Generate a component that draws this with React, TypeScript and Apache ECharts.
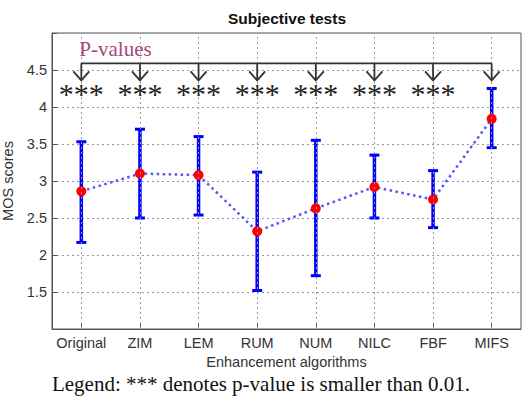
import React, { useEffect, useRef } from "react";
import * as echarts from "echarts";

const categories = ["Original", "ZIM", "LEM", "RUM", "NUM", "NILC", "FBF", "MIFS"];
const meanScores = [2.86, 3.1, 3.08, 2.32, 2.63, 2.92, 2.75, 3.84];
const upperBounds = [3.53, 3.7, 3.6, 3.12, 3.55, 3.35, 3.14, 4.25];
const lowerBounds = [2.17, 2.5, 2.54, 1.52, 1.72, 2.5, 2.37, 3.45];
const significance = ["***", "***", "***", "***", "***", "***", "***", ""];
const yMin = 1;
const yMax = 5;
const yStep = 0.5;

const titleText = "Subjective tests";
const yAxisTitle = "MOS scores";
const xAxisTitle = "Enhancement algorithms";
const pValueLabel = "P-values";
const footnote = "Legend: *** denotes p-value is smaller than 0.01.";

// annotation levels in data units
const bracketLevel = 4.59;
const arrowTipLevel = 4.36;
const starLevel = 4.25;

const SANS = "'Liberation Sans', Arial, Helvetica, sans-serif";
const SERIF = "'Liberation Serif', 'Times New Roman', serif";

export default function App() {
  const ref = useRef<HTMLDivElement>(null);

  useEffect(() => {
    document.body.style.margin = "0";
    if (!ref.current) return;
    const chart = echarts.init(ref.current, undefined, { renderer: "svg" });

    const gridLine = { color: "#9a9a9a", type: [2, 3] as number[], width: 1 };

    const option: any = {
      animation: false,
      backgroundColor: "#ffffff",
      grid: {
        left: 52,
        right: 1,
        top: 33,
        bottom: 67,
        containLabel: false,
        outerBoundsMode: "none",
        show: true,
        borderColor: "#555",
        borderWidth: 1,
        backgroundColor: "transparent",
      },
      graphic: [
        {
          type: "text",
          x: 287,
          y: 18.7,
          style: {
            text: titleText,
            font: `bold 15.5px ${SANS}`,
            fill: "#111",
            textAlign: "center",
            textVerticalAlign: "middle",
          },
        },
        {
          type: "text",
          x: 261,
          y: 384,
          style: {
            text: footnote,
            font: `21px ${SERIF}`,
            fill: "#111",
            textAlign: "center",
            textVerticalAlign: "middle",
          },
        },
      ],
      xAxis: {
        type: "category",
        data: categories,
        boundaryGap: true,
        axisLine: { show: true, lineStyle: { color: "#555", width: 1 } },
        axisTick: { show: true, inside: true, alignWithLabel: true, length: 5, lineStyle: { color: "#555" } },
        axisLabel: { color: "#333", fontSize: 14.5, fontFamily: SANS, margin: 6, interval: 0 },
        splitLine: { show: false },
        name: xAxisTitle,
        nameLocation: "middle",
        nameGap: 25,
        nameTextStyle: { color: "#333", fontSize: 14.5, fontFamily: SANS },
      },
      yAxis: {
        type: "value",
        min: yMin,
        max: yMax,
        interval: yStep,
        axisLine: { show: true, lineStyle: { color: "#555", width: 1 } },
        axisTick: { show: true, inside: true, length: 5, lineStyle: { color: "#555" } },
        axisLabel: {
          color: "#333",
          fontSize: 14.5,
          fontFamily: SANS,
          margin: 5,
          formatter: (v: number) => (v === yMin || v === yMax ? "" : String(v)),
        },
        splitLine: { show: true, lineStyle: gridLine },
        name: yAxisTitle,
        nameLocation: "middle",
        nameGap: 22,
        nameTextStyle: { color: "#333", fontSize: 14.5, fontFamily: SANS },
      },
      series: [
        {
          type: "custom",
          name: "grid",
          silent: true,
          data: [],
          renderItem: () => null,
          markLine: {
            silent: true,
            symbol: ["none", "none"],
            label: { show: false },
            lineStyle: gridLine,
            data: categories.map((c) => ({ xAxis: c })),
          },
          z: 1,
        },
        {
          type: "custom",
          name: "error",
          silent: true,
          z: 3,
          data: categories.map((_, i) => [i, lowerBounds[i], upperBounds[i]]),
          renderItem: (params: any, api: any) => {
            const x = api.value(0);
            const hi = api.coord([x, api.value(2)]);
            const lo = api.coord([x, api.value(1)]);
            const half = 5;
            const style = { stroke: "#0000ff", lineWidth: 3.5 };
            return {
              type: "group",
              children: [
                { type: "line", shape: { x1: hi[0], y1: hi[1], x2: lo[0], y2: lo[1] }, style },
                { type: "line", shape: { x1: hi[0] - half, y1: hi[1], x2: hi[0] + half, y2: hi[1] }, style: { stroke: "#0000ff", lineWidth: 3 } },
                { type: "line", shape: { x1: lo[0] - half, y1: lo[1], x2: lo[0] + half, y2: lo[1] }, style: { stroke: "#0000ff", lineWidth: 3 } },
              ],
            };
          },
        },
        {
          type: "line",
          name: "mean",
          data: meanScores,
          z: 4,
          symbol: "circle",
          symbolSize: 10,
          itemStyle: { color: "#ff0000", borderWidth: 0 },
          lineStyle: { color: "#5555ff", width: 2.5, type: [2.5, 3.5] },
        },
        {
          type: "custom",
          name: "annotation",
          silent: true,
          clip: false,
          z: 5,
          data: categories.map((_, i) => [i, bracketLevel]),
          renderItem: (params: any, api: any) => {
            const i = params.dataIndex;
            const x = api.value(0);
            const top = api.coord([x, bracketLevel]);
            const tip = api.coord([x, arrowTipLevel]);
            const st = api.coord([x, starLevel]);
            const stroke = { stroke: "#333", lineWidth: 1.8, fill: "none" };
            const children: any[] = [
              { type: "line", shape: { x1: top[0], y1: top[1], x2: tip[0], y2: tip[1] }, style: stroke },
              {
                type: "polyline",
                shape: { points: [[tip[0] - 8, tip[1] - 9], [tip[0], tip[1]], [tip[0] + 8, tip[1] - 9]] },
                style: stroke,
              },
            ];
            if (significance[i]) {
              children.push({
                type: "text",
                x: st[0],
                y: st[1] + 5,
                style: {
                  text: significance[i],
                  font: `30px ${SERIF}`,
                  fill: "#222",
                  textAlign: "center",
                  textVerticalAlign: "middle",
                },
              });
            }
            if (i === 0) {
              const last = api.coord([categories.length - 1, bracketLevel]);
              children.push({ type: "line", shape: { x1: top[0], y1: top[1], x2: last[0], y2: last[1] }, style: stroke });
              children.push({
                type: "text",
                x: top[0] - 2,
                y: top[1] - 4,
                style: {
                  text: pValueLabel,
                  font: `21px ${SERIF}`,
                  fill: "#a8457a",
                  textAlign: "left",
                  textVerticalAlign: "bottom",
                },
              });
            }
            return { type: "group", children };
          },
        },
      ],
    };

    chart.setOption(option);
    return () => chart.dispose();
  }, []);

  return <div ref={ref} style={{ width: 522, height: 396 }} />;
}
